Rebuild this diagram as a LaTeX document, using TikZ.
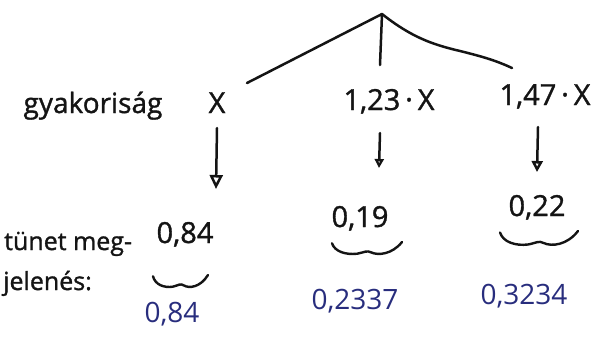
\documentclass[tikz,border=0pt]{standalone}
\usepackage{fontspec}
\setmainfont{Open Sans}
\newfontfamily\handfont[FakeBold=1.2]{Open Sans}
\usetikzlibrary{arrows.meta}
\definecolor{ink}{RGB}{20,20,20}
\definecolor{blueink}{RGB}{40,45,125}
\tikzset{
  stroke/.style={draw=ink, line width=2.5pt, line cap=round, line join=round},
  thinstroke/.style={draw=ink, line width=2.4pt, line cap=round, line join=round},
  lbl/.style={inner sep=0pt, text=ink, font=\handfont\fontsize{28}{30}\selectfont},
  val/.style={inner sep=0pt, text=ink, font=\handfont\fontsize{29}{31}\selectfont},
  bval/.style={inner sep=0pt, text=blueink, font=\fontsize{28}{30}\selectfont},
  side/.style={inner sep=0pt, text=ink, anchor=base west, font=\handfont\fontsize{25}{27}\selectfont},
  wavy/.pic={\draw[thinstroke] (0,0.1) .. controls (0.04,0.75) and (0.2,1) .. (0.36,0.9)
       .. controls (0.46,0.8) and (0.5,0.62) .. (0.56,0.8)
       .. controls (0.66,1.05) and (0.86,0.95) .. (1,0);}
}
\begin{document}
\begin{tikzpicture}[x=1pt,y=-1pt]
\useasboundingbox (0,0) rectangle (613,338);
% tree
\coordinate (apex) at (382,14);
\coordinate (l1) at (247,83);
\coordinate (l2) at (380,65);
\coordinate (l3) at (512,68);
\draw[stroke] (l1) -- (apex) -- (l2);
\draw[stroke] (apex) .. controls (410,36) and (430,44) .. (460,51) .. controls (480,56) and (495,60) .. (l3);
% labels row
\node[lbl, anchor=base] (gy) at (93,113) {gyakoriság};
\node[val, anchor=base] (x1) at (217,113) {X};
\node[val, anchor=base] (x2) at (389,110) {1,23\,·\,X};
\node[val, anchor=base] (x3) at (545,105) {1,47\,·\,X};
% arrows
\coordinate (a1s) at (217,128);
\coordinate (a1e) at (216,189);
\coordinate (a2s) at (380,133);
\coordinate (a2e) at (379,168);
\coordinate (a3s) at (538,127);
\coordinate (a3e) at (537,172);
\draw[stroke, -{Triangle[open, length=14pt, width=13pt]}] (a1s) -- (a1e);
\draw[stroke, -{Triangle[open, length=9pt, width=9pt]}] (a2s) -- (a2e);
\draw[stroke, -{Triangle[open, length=11pt, width=11pt]}] (a3s) -- (a3e);
% values
\node[val, anchor=base] (v1) at (185,243) {0,84};
\node[val, anchor=base] (v2) at (360,227) {0,19};
\node[val, anchor=base] (v3) at (537,216) {0,22};
% side labels
\node[side] (tm) at (4,250) {tünet meg-};
\node[side] (jl) at (3,290) {jelenés:};
% braces
\pic[xscale=55, yscale=13] at (153,275) {wavy};
\pic[xscale=70, yscale=13] at (332,242) {wavy};
\pic[xscale=78, yscale=15] at (500,231) {wavy};
% blue results
\node[bval, anchor=base] (b1) at (172,322) {0,84};
\node[bval, anchor=base] (b2) at (355,309) {0,2337};
\node[bval, anchor=base] (b3) at (524,304) {0,3234};
\end{tikzpicture}
\end{document}
